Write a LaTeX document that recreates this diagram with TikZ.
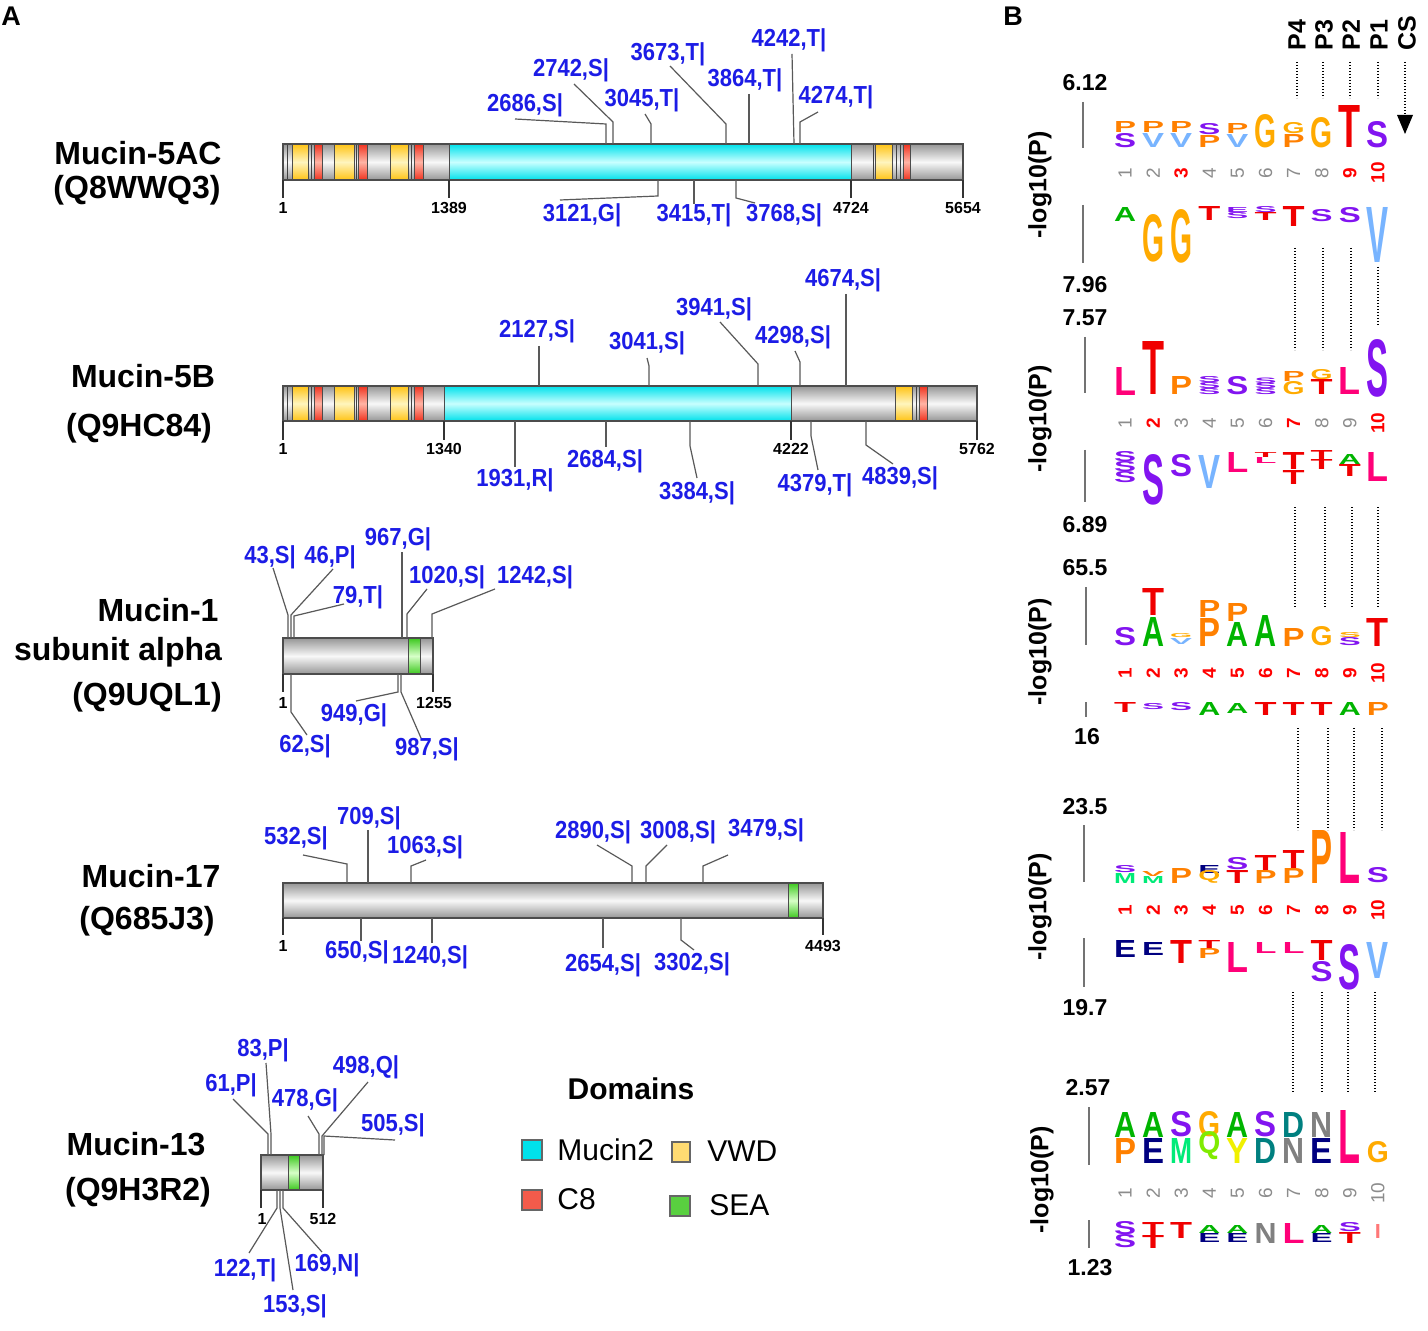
\documentclass[tikz,border=0pt]{standalone}
\usepackage{fontspec}
\setmainfont{Liberation Sans}
\usepackage{graphicx}
\usetikzlibrary{arrows.meta}
\definecolor{siteblue}{RGB}{28,28,230}
\definecolor{barG}{RGB}{150,150,150}
\definecolor{barW}{RGB}{248,248,248}
\definecolor{cyE}{RGB}{0,225,235}
\definecolor{cyM}{RGB}{200,255,255}
\definecolor{yeE}{RGB}{255,195,20}
\definecolor{yeM}{RGB}{255,245,190}
\definecolor{reE}{RGB}{240,50,30}
\definecolor{reM}{RGB}{255,180,165}
\definecolor{grE}{RGB}{60,200,30}
\definecolor{grM}{RGB}{215,255,200}
\definecolor{cS}{RGB}{130,20,240}
\definecolor{cP}{RGB}{255,128,0}
\definecolor{cV}{RGB}{120,180,255}
\definecolor{cG}{RGB}{255,170,0}
\definecolor{cT}{RGB}{240,0,0}
\definecolor{cA}{RGB}{0,180,0}
\definecolor{cL}{RGB}{255,0,120}
\definecolor{cE}{RGB}{0,0,128}
\definecolor{cM}{RGB}{0,235,120}
\definecolor{cQ}{RGB}{128,235,0}
\definecolor{cY}{RGB}{240,240,0}
\definecolor{cD}{RGB}{0,128,128}
\definecolor{cN}{RGB}{128,128,128}
\definecolor{cI}{RGB}{255,120,120}
\tikzset{
 graybar/.style={top color=barG, bottom color=barG, middle color=barW, draw=black!70, line width=0.6pt},
 cyanseg/.style={top color=cyE, bottom color=cyE, middle color=cyM, draw=black!70, line width=0.5pt},
 yelseg/.style={top color=yeE, bottom color=yeE, middle color=yeM, draw=black!70, line width=0.5pt},
 redseg/.style={top color=reE, bottom color=reE, middle color=reM, draw=black!70, line width=0.5pt},
 grnseg/.style={top color=grE, bottom color=grE, middle color=grM, draw=black!70, line width=0.5pt},
 dline/.style={draw=black!75, line width=0.5pt},
 lead/.style={draw=black!65, line width=0.6pt},
 tickln/.style={draw=black!80, line width=0.6pt},
 st/.style={font=\fontsize{11}{12}\selectfont\bfseries, text=siteblue, inner sep=0pt},
 tickl/.style={font=\fontsize{8}{9}\selectfont\bfseries, inner sep=0pt},
 pname/.style={font=\fontsize{16}{19}\selectfont\bfseries, inner sep=0pt},
 legt/.style={font=\fontsize{15}{18}\selectfont, inner sep=0pt, anchor=west},
 legbox/.style={draw=black!60, line width=0.6pt},
 panel/.style={font=\fontsize{13.5}{16}\selectfont\bfseries, inner sep=0pt},
 lgl/.style={inner sep=0pt, outer sep=0pt, anchor=south, font=\bfseries},
 numg/.style={font=\fontsize{9.5}{10}\selectfont, text=black!45, rotate=90, inner sep=0pt},
 numr/.style={font=\fontsize{9.5}{10}\selectfont\bfseries, text=red, rotate=90, inner sep=0pt},
 axl/.style={draw=black!55, line width=1pt},
 axv/.style={font=\fontsize{11.5}{13}\selectfont\bfseries, inner sep=0pt},
 ylab/.style={font=\fontsize{12.5}{14}\selectfont\bfseries, rotate=90, inner sep=0pt},
 hdr/.style={font=\fontsize{12.5}{14}\selectfont\bfseries, rotate=90, anchor=west, inner sep=0pt},
 dotl/.style={draw=black, line width=1.4pt, dash pattern=on 0.7pt off 0.8pt}
}
\newcommand{\stx}[1]{\scalebox{1}[1.12]{#1}}
\newcounter{lgc}
\newcommand{\LG}[5]{\pgfmathsetmacro\lgh{(#3-#2)/2}\stepcounter{lgc}%
 \node[lgl, text=#4] (lg\arabic{lgc}) at ({1125+28.1*(#1-1)},#3) {\resizebox{11pt}{\lgh pt}{#5}};}
\newcommand{\LGw}[6]{\pgfmathsetmacro\lgh{(#3-#2)/2}\stepcounter{lgc}%
 \node[lgl, text=#4] (lg\arabic{lgc}) at ({1125+28.1*(#1-1)},#3) {\resizebox{#6}{\lgh pt}{#5}};}
\newcommand{\leftpat}[2]{%
 \shadedraw[yelseg] (292,#1) rectangle (308,#2);
 \shadedraw[yelseg] (334,#1) rectangle (354,#2);
 \shadedraw[yelseg] (390,#1) rectangle (408,#2);
 \shadedraw[redseg] (314,#1) rectangle (322,#2);
 \shadedraw[redseg] (358,#1) rectangle (367,#2);
 \shadedraw[redseg] (414,#1) rectangle (423,#2);
 \draw[dline] (287,#1) -- (287,#2);
 \draw[dline] (311,#1) -- (311,#2);
 \draw[dline] (356,#1) -- (356,#2);
 \draw[dline] (411,#1) -- (411,#2);
}
\begin{document}
\begin{tikzpicture}[x=0.5pt,y=-0.5pt]
\fill[white] (0,0) rectangle (1428,1331);
\useasboundingbox (0,0) rectangle (1428,1331);

\node[panel] (pA) at (11,16) {A};
\node[panel] (pB) at (1013,16) {B};

% ================= Mucin-5AC =================
\node[pname] (n5ac) at (138,153) {Mucin-5AC};
\node[pname] (i5ac) at (137,190) {(Q8WWQ3)};
\shadedraw[graybar] (283,144) rectangle (963,180);
\leftpat{144}{180}
\shadedraw[cyanseg] (449,144) rectangle (851,180);
\shadedraw[yelseg] (875,144) rectangle (892,180);
\shadedraw[redseg] (903,144) rectangle (910,180);
\draw[dline] (873,144) -- (873,180);
\draw[dline] (896,144) -- (896,180);
\draw[dline] (900,144) -- (900,180);
\draw[black!70, line width=0.6pt] (283,144) rectangle (963,180);
\foreach \xx/\lab in {283/1,449/1389,851/4724,963/5654}{
 \draw[tickln] (\xx,180) -- (\xx,198);
 \node[tickl] (t5ac\lab) at (\xx,208) {\lab};}
\node[st] (a2742) at (571,70) {\stx{2742,S|}};
\node[st] (a3673) at (668,54) {\stx{3673,T|}};
\node[st] (a4242) at (789,40) {\stx{4242,T|}};
\node[st] (a3864) at (745,80) {\stx{3864,T|}};
\node[st] (a2686) at (525,105) {\stx{2686,S|}};
\node[st] (a3045) at (642,100) {\stx{3045,T|}};
\node[st] (a4274) at (836,97) {\stx{4274,T|}};
\node[st] (a3121) at (582,215) {\stx{3121,G|}};
\node[st] (a3415) at (694,215) {\stx{3415,T|}};
\node[st] (a3768) at (784,215) {\stx{3768,S|}};
\draw[lead] (515,119) -- (606,124) -- (606,144);
\draw[lead] (574,84) -- (613,122) -- (613,144);
\draw[lead] (645,114) -- (651,124) -- (651,144);
\draw[lead] (670,66) -- (726,124) -- (726,144);
\draw[lead] (749,94) -- (749,144);
\draw[lead] (792,54) -- (794,144);
\draw[lead] (818,112) -- (800,122) -- (800,144);
\draw[lead] (658,180) -- (658,196) -- (560,200);
\draw[lead] (694,180) -- (694,204);
\draw[lead] (736,180) -- (736,198) -- (755,203);

% ================= Mucin-5B =================
\node[pname] (n5b) at (143,376) {Mucin-5B};
\node[pname] (i5b) at (139,428) {(Q9HC84)};
\shadedraw[graybar] (283,386) rectangle (977,421);
\leftpat{386}{421}
\shadedraw[cyanseg] (444,386) rectangle (791,421);
\shadedraw[yelseg] (895,386) rectangle (912,421);
\shadedraw[redseg] (919,386) rectangle (927,421);
\draw[dline] (916,386) -- (916,421);
\draw[black!70, line width=0.6pt] (283,386) rectangle (977,421);
\foreach \xx/\lab in {283/1,444/1340,791/4222,977/5762}{
 \draw[tickln] (\xx,421) -- (\xx,440);
 \node[tickl] (t5b\lab) at (\xx,449) {\lab};}
\node[st] (b4674) at (843,280) {\stx{4674,S|}};
\node[st] (b3941) at (714,309) {\stx{3941,S|}};
\node[st] (b2127) at (537,331) {\stx{2127,S|}};
\node[st] (b4298) at (793,337) {\stx{4298,S|}};
\node[st] (b3041) at (647,343) {\stx{3041,S|}};
\node[st] (b1931) at (515,480) {\stx{1931,R|}};
\node[st] (b2684) at (605,461) {\stx{2684,S|}};
\node[st] (b3384) at (697,493) {\stx{3384,S|}};
\node[st] (b4379) at (815,485) {\stx{4379,T|}};
\node[st] (b4839) at (900,478) {\stx{4839,S|}};
\draw[lead] (539,346) -- (539,386);
\draw[lead] (647,358) -- (649,366) -- (649,386);
\draw[lead] (720,322) -- (758,364) -- (758,386);
\draw[lead] (795,351) -- (800,362) -- (800,386);
\draw[lead] (846,294) -- (846,386);
\draw[lead] (515,421) -- (515,467);
\draw[lead] (606,421) -- (606,447);
\draw[lead] (690,421) -- (690,446) -- (697,478);
\draw[lead] (811,421) -- (811,436) -- (818,470);
\draw[lead] (866,421) -- (866,445) -- (893,464);

% ================= Mucin-1 =================
\node[pname] (n1a) at (158,610) {Mucin-1};
\node[pname] (n1b) at (118,652) {subunit alpha};
\node[pname] (i1) at (147,697) {(Q9UQL1)};
\shadedraw[graybar] (283,638) rectangle (433,674);
\shadedraw[grnseg] (408,638) rectangle (420,674);
\draw[black!70, line width=0.6pt] (283,638) rectangle (433,674);
\draw[tickln] (283,674) -- (283,692);
\draw[tickln] (433,674) -- (433,692);
\node[tickl] (t1a) at (283,703) {1};
\node[tickl] (t1b) at (434,703) {1255};
\node[st] (c43) at (270,557) {\stx{43,S|}};
\node[st] (c46) at (330,557) {\stx{46,P|}};
\node[st] (c967) at (398,539) {\stx{967,G|}};
\node[st] (c79) at (358,597) {\stx{79,T|}};
\node[st] (c1020) at (447,577) {\stx{1020,S|}};
\node[st] (c1242) at (535,577) {\stx{1242,S|}};
\node[st] (c949) at (354,715) {\stx{949,G|}};
\node[st] (c62) at (305,746) {\stx{62,S|}};
\node[st] (c987) at (427,749) {\stx{987,S|}};
\draw[lead] (273,568) -- (288,615) -- (288,638);
\draw[lead] (333,569) -- (291,615) -- (291,638);
\draw[lead] (344,604) -- (294,616) -- (294,638);
\draw[lead] (402,552) -- (402,638);
\draw[lead] (427,589) -- (407,614) -- (407,638);
\draw[lead] (495,589) -- (432,614) -- (432,638);
\draw[lead] (291,674) -- (291,712) -- (307,735);
\draw[lead] (398,674) -- (398,692) -- (356,701);
\draw[lead] (401,674) -- (401,692) -- (421,738);

% ================= Mucin-17 =================
\node[pname] (n17) at (151,876) {Mucin-17};
\node[pname] (i17) at (147,921) {(Q685J3)};
\shadedraw[graybar] (283,883) rectangle (823,918);
\shadedraw[grnseg] (788,883) rectangle (798,918);
\draw[black!70, line width=0.6pt] (283,883) rectangle (823,918);
\draw[tickln] (283,918) -- (283,935);
\draw[tickln] (823,918) -- (823,935);
\node[tickl] (t17a) at (283,946) {1};
\node[tickl] (t17b) at (823,946) {4493};
\node[st] (d532) at (296,838) {\stx{532,S|}};
\node[st] (d709) at (369,818) {\stx{709,S|}};
\node[st] (d1063) at (425,847) {\stx{1063,S|}};
\node[st] (d2890) at (593,832) {\stx{2890,S|}};
\node[st] (d3008) at (678,832) {\stx{3008,S|}};
\node[st] (d3479) at (766,830) {\stx{3479,S|}};
\node[st] (d650) at (357,952) {\stx{650,S|}};
\node[st] (d1240) at (430,957) {\stx{1240,S|}};
\node[st] (d2654) at (603,965) {\stx{2654,S|}};
\node[st] (d3302) at (692,964) {\stx{3302,S|}};
\draw[lead] (303,855) -- (347,864) -- (347,883);
\draw[lead] (368,830) -- (368,883);
\draw[lead] (426,860) -- (411,866) -- (411,883);
\draw[lead] (597,845) -- (632,866) -- (632,883);
\draw[lead] (667,845) -- (646,866) -- (646,883);
\draw[lead] (728,855) -- (703,866) -- (703,883);
\draw[lead] (361,918) -- (361,941);
\draw[lead] (432,918) -- (432,943);
\draw[lead] (603,918) -- (603,948);
\draw[lead] (681,918) -- (681,940) -- (694,950);

% ================= Mucin-13 =================
\node[pname] (n13) at (136,1144) {Mucin-13};
\node[pname] (i13) at (138,1192) {(Q9H3R2)};
\shadedraw[graybar] (261,1155) rectangle (323,1190);
\shadedraw[grnseg] (288,1155) rectangle (299,1190);
\draw[black!70, line width=0.6pt] (261,1155) rectangle (323,1190);
\draw[tickln] (261,1190) -- (261,1208);
\draw[tickln] (323,1190) -- (323,1208);
\node[tickl] (t13a) at (262,1219) {1};
\node[tickl] (t13b) at (323,1219) {512};
\node[st] (e83) at (263,1050) {\stx{83,P|}};
\node[st] (e61) at (231,1085) {\stx{61,P|}};
\node[st] (e478) at (305,1100) {\stx{478,G|}};
\node[st] (e498) at (366,1067) {\stx{498,Q|}};
\node[st] (e505) at (393,1125) {\stx{505,S|}};
\node[st] (e122) at (245,1270) {\stx{122,T|}};
\node[st] (e169) at (327,1265) {\stx{169,N|}};
\node[st] (e153) at (295,1306) {\stx{153,S|}};
\draw[lead] (233,1099) -- (268,1134) -- (268,1155);
\draw[lead] (266,1063) -- (271,1134) -- (271,1155);
\draw[lead] (308,1116) -- (319,1134) -- (319,1155);
\draw[lead] (368,1082) -- (322,1136) -- (322,1155);
\draw[lead] (395,1140) -- (324,1136) -- (324,1155);
\draw[lead] (277,1190) -- (277,1208) -- (249,1253);
\draw[lead] (280,1190) -- (280,1208) -- (293,1290);
\draw[lead] (283,1190) -- (283,1208) -- (322,1252);

% ================= Legend =================
\node[font=\fontsize{15}{18}\selectfont\bfseries, inner sep=0pt] (dom) at (631,1089) {Domains};
\fill[cyE, legbox] (522,1140) rectangle (542,1160);
\node[legt] (lmuc) at (557,1150) {Mucin2};
\fill[yeE!60!white, legbox] (672,1142) rectangle (690,1162);
\node[legt] (lvwd) at (707,1151) {VWD};
\fill[reE!80!white, legbox] (522,1190) rectangle (542,1210);
\node[legt] (lc8) at (557,1199) {C8};
\fill[grE!85!white, legbox] (670,1196) rectangle (690,1216);
\node[legt] (lsea) at (709,1205) {SEA};

% ================= Panel B headers =================
\node[hdr] (hP4) at (1297,51) {P4};
\node[hdr] (hP3) at (1324,51) {P3};
\node[hdr] (hP2) at (1351,51) {P2};
\node[hdr] (hP1) at (1379,51) {P1};
\node[hdr] (hCS) at (1407,51) {CS};
\foreach \xx in {1297,1323,1350,1378} \draw[dotl] (\xx,62) -- (\xx,98);
\draw[dotl] (1405,62) -- (1405,117);
\fill[black] (1397,115) -- (1413,115) -- (1405,134) -- cycle;
% connecting dotted lines
\foreach \xx in {1295,1323,1351} \draw[dotl] (\xx,248) -- (\xx,350);
\draw[dotl] (1378,267) -- (1378,325);
\foreach \xx in {1295,1325,1352,1378} \draw[dotl] (\xx,507) -- (\xx,608);
\foreach \xx in {1298,1328,1354,1382} \draw[dotl] (\xx,728) -- (\xx,830);
\foreach \xx in {1293,1322,1348,1375} \draw[dotl] (\xx,992) -- (\xx,1092);

% ================= Logo 1 =================
\node[axv] (v1a) at (1085,83) {6.12};
\node[axv] (v1b) at (1085,285) {7.96};
\node[ylab] (y1) at (1040,185) {-log10(P)};
\draw[axl] (1083,102) -- (1083,148);
\draw[axl] (1083,205) -- (1083,263);
\foreach \i/\s in {1/numg,2/numg,3/numr,4/numg,5/numg,6/numg,7/numg,8/numg,9/numr,10/numr}
 \node[\s] (nA\i) at ({1125+28.1*(\i-1)},173) {\i};
\LG{1}{122}{133}{cP}{P}\LG{1}{134}{148}{cS}{S}
\LG{2}{122}{133}{cP}{P}\LG{2}{134}{148}{cV}{V}
\LG{3}{122}{133}{cP}{P}\LG{3}{134}{148}{cV}{V}
\LG{4}{124}{135}{cS}{S}\LG{4}{136}{148}{cP}{P}
\LG{5}{124}{134}{cP}{P}\LG{5}{135}{148}{cV}{V}
\LG{6}{115}{148}{cG}{G}
\LG{7}{123}{134}{cG}{G}\LG{7}{135}{148}{cP}{P}
\LG{8}{118}{148}{cG}{G}
\LG{9}{106}{148}{cT}{T}
\LG{10}{122}{148}{cS}{S}
\LG{1}{208}{222}{cA}{A}
\LG{2}{215}{262}{cG}{G}
\LG{3}{210}{263}{cG}{G}
\LG{4}{207}{221}{cT}{T}
\LG{5}{208}{213}{cS}{E}\LG{5}{213}{219}{cS}{S}
\LG{6}{207}{213}{cS}{S}\LG{6}{213}{221}{cT}{T}
\LG{7}{207}{227}{cT}{T}
\LG{8}{210}{222}{cS}{S}
\LG{9}{208}{223}{cS}{S}
\LG{10}{208}{263}{cV}{V}

% ================= Logo 2 =================
\node[axv] (v2a) at (1085,318) {7.57};
\node[axv] (v2b) at (1085,525) {6.89};
\node[ylab] (y2) at (1040,419) {-log10(P)};
\draw[axl] (1085,337) -- (1085,393);
\draw[axl] (1085,450) -- (1085,502);
\foreach \i/\s in {1/numg,2/numr,3/numg,4/numg,5/numg,6/numg,7/numr,8/numg,9/numg,10/numr}
 \node[\s] (nB\i) at ({1125+28.1*(\i-1)},423) {\i};
\LG{1}{367}{395}{cL}{L}
\LG{2}{342}{395}{cT}{T}
\LG{3}{377}{395}{cP}{P}
\LG{4}{377}{383}{cS}{S}\LG{4}{383}{389}{cS}{S}\LG{4}{389}{395}{cS}{S}
\LG{5}{377}{395}{cS}{S}
\LG{6}{378}{383.5}{cS}{S}\LG{6}{383.5}{389}{cS}{S}\LG{6}{389}{395}{cS}{S}
\LG{7}{372}{382}{cP}{P}\LG{7}{382}{395}{cG}{G}
\LG{8}{370}{380}{cG}{G}\LG{8}{380}{395}{cT}{T}
\LG{9}{368}{395}{cL}{L}
\LG{10}{340}{397}{cS}{S}
\LG{1}{452}{462}{cS}{S}\LG{1}{462}{472}{cS}{S}\LG{1}{472}{483}{cS}{S}
\LG{2}{455}{505}{cS}{S}
\LG{3}{455}{477}{cS}{S}
\LG{4}{455}{488}{cV}{V}
\LG{5}{453}{473}{cL}{L}
\LG{6}{453}{458}{cT}{T}\LG{6}{458}{464}{cL}{L}
\LG{7}{453}{470}{cT}{T}\LG{7}{471}{485}{cT}{T}
\LG{8}{450}{460}{cT}{T}\LG{8}{460}{470}{cT}{T}
\LG{9}{455}{465}{cA}{A}\LG{9}{465}{477}{cT}{T}
\LG{10}{453}{482}{cL}{L}

% ================= Logo 3 =================
\node[axv] (v3a) at (1085,568) {65.5};
\node[axv] (v3b) at (1087,737) {16};
\node[ylab] (y3) at (1040,652) {-log10(P)};
\draw[axl] (1086,587) -- (1086,645);
\draw[axl] (1086,702) -- (1086,717);
\foreach \i in {1,...,10}
 \node[numr] (nC\i) at ({1125+28.1*(\i-1)},673) {\i};
\LG{1}{628}{646}{cS}{S}
\LG{2}{588}{615}{cT}{T}\LG{2}{617}{646}{cA}{A}
\LG{3}{634}{638}{cG}{G}\LG{3}{638}{644}{cV}{V}
\LG{4}{600}{617}{cP}{P}\LG{4}{618}{646}{cP}{P}
\LG{5}{603}{621}{cP}{P}\LG{5}{622}{646}{cA}{A}
\LG{6}{615}{646}{cA}{A}
\LG{7}{628}{646}{cP}{P}
\LG{8}{627}{646}{cG}{G}
\LG{9}{633}{638}{cG}{S}\LG{9}{638}{646}{cS}{S}
\LG{10}{618}{646}{cT}{T}
\LG{1}{702}{712}{cT}{T}
\LG{2}{704}{710}{cS}{S}
\LG{3}{703}{711}{cS}{S}
\LG{4}{702}{715}{cA}{A}
\LG{5}{703}{713}{cA}{A}
\LG{6}{702}{715}{cT}{T}
\LG{7}{702}{715}{cT}{T}
\LG{8}{702}{715}{cT}{T}
\LG{9}{702}{715}{cA}{A}
\LG{10}{702}{715}{cP}{P}

% ================= Logo 4 =================
\node[axv] (v4a) at (1085,807) {23.5};
\node[axv] (v4b) at (1085,1008) {19.7};
\node[ylab] (y4) at (1040,907) {-log10(P)};
\draw[axl] (1084,825) -- (1084,882);
\draw[axl] (1084,938) -- (1084,987);
\foreach \i in {1,...,10}
 \node[numr] (nD\i) at ({1125+28.1*(\i-1)},910) {\i};
\LG{1}{866}{873}{cS}{S}\LG{1}{873}{883}{cM}{M}
\LG{2}{871}{876}{cP}{V}\LG{2}{876}{883}{cM}{M}
\LG{3}{868}{883}{cP}{P}
\LG{4}{865}{873}{cE}{E}\LG{4}{873}{883}{cG}{Q}
\LG{5}{858}{870}{cS}{S}\LG{5}{870}{883}{cT}{T}
\LG{6}{855}{870}{cT}{T}\LG{6}{870}{883}{cP}{P}
\LG{7}{850}{868}{cT}{T}\LG{7}{868}{883}{cP}{P}
\LG{8}{830}{883}{cP}{P}
\LG{9}{832}{883}{cL}{L}
\LG{10}{868}{883}{cS}{S}
\LG{1}{940}{957}{cE}{E}
\LG{2}{942}{955}{cE}{E}
\LG{3}{940}{963}{cT}{T}
\LG{4}{940}{948}{cT}{T}\LG{4}{948}{958}{cP}{P}
\LG{5}{942}{972}{cL}{L}
\LG{6}{942}{953}{cL}{L}
\LG{7}{942}{953}{cL}{L}
\LG{8}{940}{960}{cT}{T}\LG{8}{962}{982}{cS}{S}
\LG{9}{945}{990}{cS}{S}
\LG{10}{942}{978}{cV}{V}

% ================= Logo 5 =================
\node[axv] (v5a) at (1088,1088) {2.57};
\node[axv] (v5b) at (1090,1268) {1.23};
\node[ylab] (y5) at (1042,1180) {-log10(P)};
\draw[axl] (1089,1107) -- (1089,1165);
\draw[axl] (1089,1220) -- (1089,1248);
\foreach \i in {1,...,10}
 \node[numg] (nE\i) at ({1125+28.1*(\i-1)},1193) {\i};
\LG{1}{1112}{1137}{cA}{A}\LG{1}{1138}{1163}{cP}{P}
\LG{2}{1112}{1137}{cA}{A}\LG{2}{1138}{1163}{cE}{E}
\LG{3}{1112}{1137}{cS}{S}\LG{3}{1138}{1163}{cM}{M}
\LG{4}{1112}{1137}{cG}{G}\LG{4}{1138}{1160}{cQ}{Q}
\LG{5}{1112}{1137}{cA}{A}\LG{5}{1138}{1163}{cY}{Y}
\LG{6}{1112}{1137}{cS}{S}\LG{6}{1138}{1163}{cD}{D}
\LG{7}{1112}{1137}{cD}{D}\LG{7}{1138}{1163}{cN}{N}
\LG{8}{1112}{1137}{cN}{N}\LG{8}{1138}{1163}{cE}{E}
\LG{9}{1110}{1163}{cL}{L}
\LG{10}{1142}{1163}{cG}{G}
\LG{1}{1222}{1235}{cS}{S}\LG{1}{1235}{1248}{cS}{S}
\LG{2}{1222}{1235}{cT}{T}\LG{2}{1235}{1248}{cT}{T}
\LG{3}{1222}{1238}{cT}{T}
\LG{4}{1225}{1233}{cA}{A}\LG{4}{1233}{1242}{cE}{E}
\LG{5}{1225}{1233}{cA}{A}\LG{5}{1233}{1242}{cE}{E}
\LG{6}{1223}{1243}{cN}{N}
\LG{7}{1223}{1243}{cL}{L}
\LG{8}{1225}{1233}{cA}{A}\LG{8}{1233}{1242}{cE}{E}
\LG{9}{1223}{1232}{cS}{S}\LG{9}{1232}{1243}{cT}{T}
\LGw{10}{1224}{1238}{cI}{I}{3pt}
\end{tikzpicture}
\end{document}
